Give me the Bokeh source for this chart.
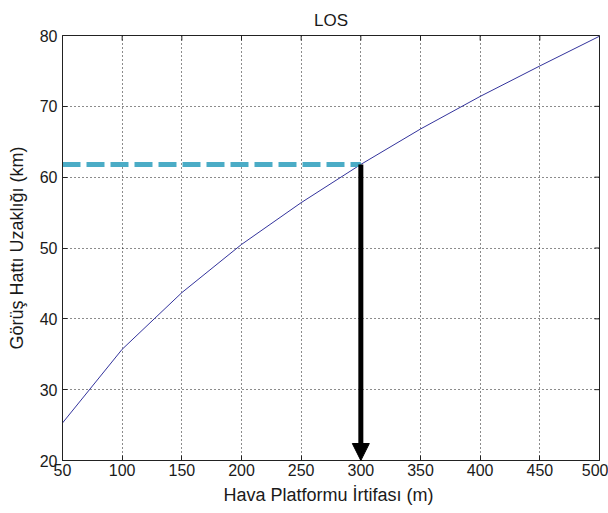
import math
from bokeh.plotting import figure
from bokeh.models import Range1d, FixedTicker, Arrow, NormalHead, ColumnDataSource
from bokeh.embed import file_html
from bokeh.resources import INLINE

# Data
altitude_m = [50, 100, 150, 200, 250, 300, 350, 400, 450, 500]
los_km = [25.3, 35.7, 43.7, 50.5, 56.4, 61.8, 66.8, 71.4, 75.7, 79.9]
x_ticks = [50, 100, 150, 200, 250, 300, 350, 400, 450, 500]
y_ticks = [20, 30, 40, 50, 60, 70, 80]
marked_altitude = 300
marked_los = los_km[altitude_m.index(marked_altitude)]

FONT = "Liberation Sans"
TXT = "#1a1a1a"
AXC = "#222222"

p = figure(width=608, height=513, output_backend="svg", toolbar_location=None,
           x_range=Range1d(x_ticks[0], x_ticks[-1]),
           y_range=Range1d(y_ticks[0], y_ticks[-1]),
           title="LOS", min_border_left=62, min_border_right=9,
           min_border_top=35, min_border_bottom=53)

p.title.align = "center"
p.title.text_font = FONT
p.title.text_font_size = "17px"
p.title.text_font_style = "normal"
p.title.text_color = TXT
p.title.standoff = 11

p.outline_line_color = AXC
p.outline_line_width = 1

for ax, ticks in ((p.xaxis[0], x_ticks), (p.yaxis[0], y_ticks)):
    ax.ticker = FixedTicker(ticks=ticks)
    ax.major_tick_in = 5
    ax.major_tick_out = 0
    ax.minor_tick_in = 0
    ax.minor_tick_out = 0
    ax.axis_line_color = AXC
    ax.major_tick_line_color = AXC
    ax.major_label_text_font = FONT
    ax.major_label_text_font_size = "16px"
    ax.major_label_text_color = TXT
    ax.axis_label_text_font = FONT
    ax.axis_label_text_font_size = "18px"
    ax.axis_label_text_font_style = "normal"
    ax.axis_label_text_color = TXT

p.xaxis[0].axis_label = "Hava Platformu İrtifası  (m)"
p.yaxis[0].axis_label = "Görüş Hattı Uzaklığı (km)"
p.xaxis[0].major_label_standoff = 3
p.xaxis[0].axis_label_standoff = 6
p.yaxis[0].major_label_standoff = 5
p.yaxis[0].axis_label_standoff = 10

# mirrored box ticks on top and right edges
p.ray(x=x_ticks, y=[y_ticks[-1]] * len(x_ticks), length=5, length_units="screen",
      angle=-math.pi / 2, line_color=AXC, line_width=1)
p.ray(x=[x_ticks[-1]] * len(y_ticks), y=y_ticks, length=5, length_units="screen",
      angle=math.pi, line_color=AXC, line_width=1)

for g in (p.xgrid[0], p.ygrid[0]):
    g.grid_line_color = "black"
    g.grid_line_dash = "1 3"
    g.grid_line_width = 1
    g.grid_line_alpha = 0.9
p.xgrid[0].ticker = FixedTicker(ticks=x_ticks)
p.ygrid[0].ticker = FixedTicker(ticks=y_ticks)

src = ColumnDataSource(dict(x=altitude_m, y=los_km))
p.line("x", "y", source=src, line_color="#33339c", line_width=1)

# dashed guide line
p.segment(x0=[altitude_m[0]], y0=[marked_los], x1=[marked_altitude], y1=[marked_los],
          line_color="#4bacc6", line_width=5, line_dash="18 6")

# arrow down to the x axis
p.add_layout(Arrow(end=NormalHead(size=17, fill_color="black", line_color="black"),
                   x_start=marked_altitude, y_start=marked_los,
                   x_end=marked_altitude, y_end=y_ticks[0],
                   line_color="black", line_width=5))

open("out.html", "w").write(file_html(p, INLINE))
